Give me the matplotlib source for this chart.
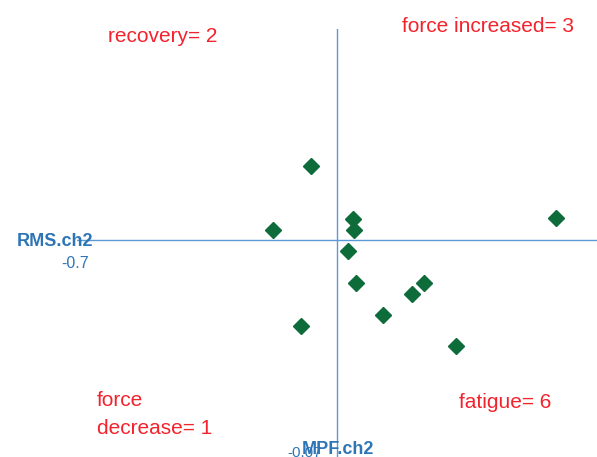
import matplotlib
matplotlib.use("Agg")
import matplotlib.pyplot as plt

# Data (MPF.ch2 on x, RMS.ch2 on y)
mpf = [-0.070, -0.172, 0.043, 0.046, 0.030, 0.051, 0.234, 0.202, 0.124, -0.097, 0.590, 0.320]
rms = [0.0246, 0.0033, 0.0070, 0.0033, -0.0036, -0.0143, -0.0143, -0.0179, -0.0249, -0.0285, 0.0073, -0.0352]
quadrant_labels = ["recovery= 2", "force increased= 3", "force\ndecrease= 1", "fatigue= 6"]
x_title = "MPF.ch2"
y_title = "RMS.ch2"
x_min_label = "-0.7"
y_min_label = "-0.07"

W, H = 597, 457
fig = plt.figure(figsize=(W / 100, H / 100), dpi=100)
plt.rcParams['font.family'] = ['Liberation Sans', 'DejaVu Sans']

def fx(px):
    return px / W

def fy(py):
    return 1 - py / H

ax = fig.add_axes([fx(77), fy(457), fx(597) - fx(77), fy(29) - fy(457)])
ax.set_xlim(-0.7, 0.7)
ax.set_ylim(-0.0720, 0.07)

axis_blue = "#5B9BD5"
for s in ax.spines.values():
    s.set_visible(False)
ax.axhline(0, color=axis_blue, lw=1.0)
ax.axvline(0, color=axis_blue, lw=1.0)
ax.set_xticks([])
ax.set_yticks([])
ax.patch.set_alpha(0)

ax.plot(mpf, rms, linestyle='none', marker='D', markersize=8.2,
        color="#0E6B3A", markeredgecolor="#0E6B3A")

red = "#F2232D"
fs = 15
fig.text(fx(108), fy(36), quadrant_labels[0], color=red, fontsize=fs, va='center', ha='left')
fig.text(fx(402), fy(27), quadrant_labels[1], color=red, fontsize=fs, va='center', ha='left')
fig.text(fx(97), fy(414.5), quadrant_labels[2], color=red, fontsize=fs, va='center', ha='left',
         linespacing=1.6)
fig.text(fx(459), fy(403), quadrant_labels[3], color=red, fontsize=fs, va='center', ha='left')

title_blue = "#2E75B6"
fig.text(fx(305), fy(453), y_min_label, color=title_blue, fontsize=11, va='center', ha='center')
fig.text(fx(338), fy(449), x_title, color=title_blue, fontsize=13, fontweight='bold',
         va='center', ha='center')
fig.text(fx(17), fy(241), y_title, color=title_blue, fontsize=13, fontweight='bold',
         va='center', ha='left')
fig.text(fx(75), fy(263), x_min_label, color=title_blue, fontsize=11.5, va='center', ha='center')

fig.savefig("out.png", dpi=100)
